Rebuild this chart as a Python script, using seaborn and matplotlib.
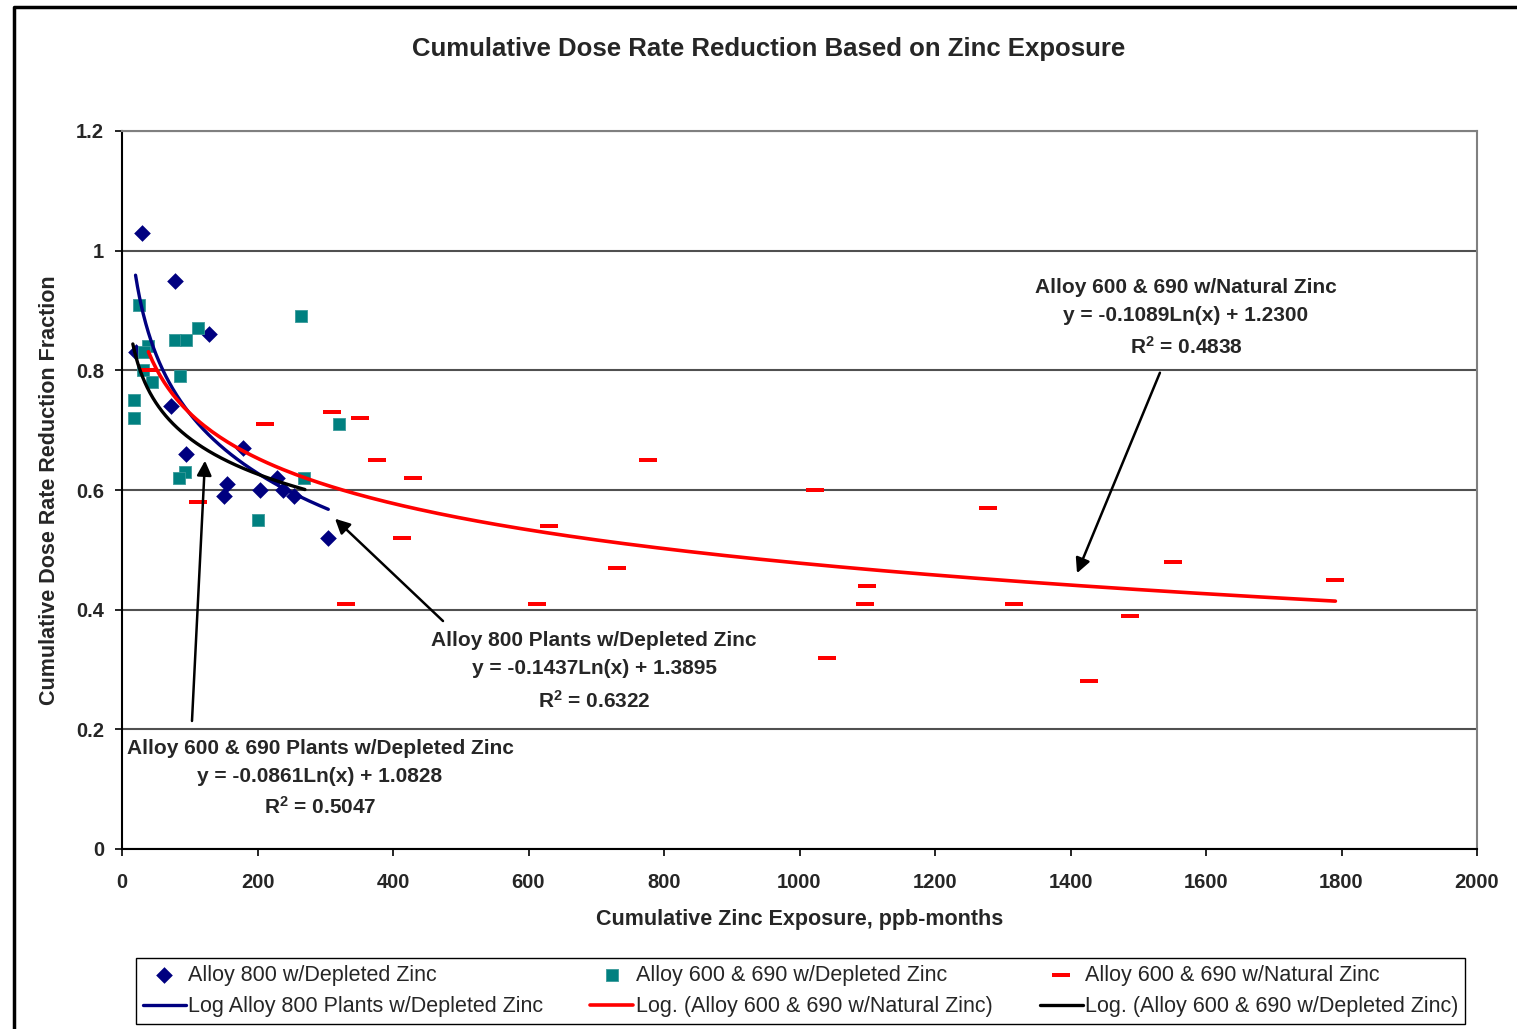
import numpy as np
import pandas as pd
import matplotlib
matplotlib.use("Agg")
import matplotlib.pyplot as plt
from matplotlib.lines import Line2D
import seaborn as sns

# ---- data -------------------------------------------------------------
alloy800_x = [20, 78, 129, 29, 73, 94.5, 179, 154.5, 150.5, 204, 229, 238, 254, 304.5]
alloy800_y = [0.83, 0.95, 0.86, 1.03, 0.74, 0.66, 0.67, 0.61, 0.59, 0.60, 0.62, 0.60, 0.59, 0.52]

depleted_x = [25, 264, 112.6, 78, 94, 39, 33, 31, 44, 85.6, 17, 17, 320, 93, 84, 269, 201]
depleted_y = [0.91, 0.89, 0.87, 0.85, 0.85, 0.84, 0.83, 0.80, 0.78, 0.79, 0.75, 0.72, 0.71, 0.63, 0.62, 0.62, 0.55]

natural_x = [39, 112.6, 211, 310, 351, 376, 430, 414, 330, 630, 613, 730, 776, 1023, 1040,
             1100, 1097, 1278, 1316, 1427, 1488, 1552, 1791]
natural_y = [0.80, 0.58, 0.71, 0.73, 0.72, 0.65, 0.62, 0.52, 0.41, 0.54, 0.41, 0.47, 0.65, 0.60, 0.32,
             0.44, 0.41, 0.57, 0.41, 0.28, 0.39, 0.48, 0.45]

# logarithmic trendlines: y = a*ln(x) + b, R², and the x span each one covers
fit800 = (-0.1437, 1.3895, 0.6322)
fit_natural = (-0.1089, 1.2300, 0.4838)
fit_depleted = (-0.0861, 1.0828, 0.5047)
span800 = (20, 304.5)
span_natural = (39, 1791)
span_depleted = (16, 270)

x_ticks = [0, 200, 400, 600, 800, 1000, 1200, 1400, 1600, 1800, 2000]
y_ticks = [0, 0.2, 0.4, 0.6, 0.8, 1.0, 1.2]
y_tick_labels = ["0", "0.2", "0.4", "0.6", "0.8", "1", "1.2"]

label800 = "Alloy 800 w/Depleted Zinc"
label_dep = "Alloy 600 & 690 w/Depleted Zinc"
label_nat = "Alloy 600 & 690 w/Natural Zinc"
label_log800 = "Log Alloy 800 Plants w/Depleted Zinc"
label_lognat = "Log. (Alloy 600 & 690 w/Natural Zinc)"
label_logdep = "Log. (Alloy 600 & 690 w/Depleted Zinc)"

NAVY = "#000080"
TEAL = "#008080"
RED = "#FF0000"

# ---- figure -------------------------------------------------------------
sns.set_theme(style="white")
plt.rcParams["font.family"] = ["Liberation Sans", "DejaVu Sans"]
plt.rcParams["mathtext.fontset"] = "custom"
plt.rcParams["mathtext.rm"] = "Liberation Sans"
plt.rcParams["mathtext.bf"] = "Liberation Sans:bold"

W, H = 1517, 1029
fig = plt.figure(figsize=(W / 100, H / 100), dpi=100)
ax = fig.add_axes([122 / W, 1 - 849 / H, 1355 / W, 718 / H])

df800 = pd.DataFrame({"x": alloy800_x, "y": alloy800_y})
dfdep = pd.DataFrame({"x": depleted_x, "y": depleted_y})
dfnat = pd.DataFrame({"x": natural_x, "y": natural_y})

dash = [(-1, -0.24), (1, -0.24), (1, 0.24), (-1, 0.24), (-1, -0.24)]

sns.scatterplot(data=df800, x="x", y="y", ax=ax, marker="D", s=72, color=NAVY,
                linewidth=0, label=label800, zorder=3)
sns.scatterplot(data=dfdep, x="x", y="y", ax=ax, marker="s", s=85, color=TEAL,
                edgecolor="#3a9a9a", linewidth=0.6, label=label_dep, zorder=3)
sns.scatterplot(data=dfnat, x="x", y="y", ax=ax, marker=dash, s=150, color=RED,
                linewidth=0, label=label_nat, zorder=3)


def trend(span, fit):
    xx = np.linspace(span[0], span[1], 300)
    return pd.DataFrame({"x": xx, "y": fit[0] * np.log(xx) + fit[1]})


sns.lineplot(data=trend(span800, fit800), x="x", y="y", ax=ax, color=NAVY, lw=2.4,
             label=label_log800, zorder=4)
sns.lineplot(data=trend(span_natural, fit_natural), x="x", y="y", ax=ax, color=RED, lw=2.6,
             label=label_lognat, zorder=4)
sns.lineplot(data=trend(span_depleted, fit_depleted), x="x", y="y", ax=ax, color="black", lw=2.4,
             label=label_logdep, zorder=4)

# ---- axes styling -----------------------------------------------------
ax.set_xlim(0, 2000)
ax.set_ylim(0, 1.2)
ax.set_xticks(x_ticks)
ax.set_xticklabels([str(t) for t in x_ticks])
ax.set_yticks(y_ticks)
ax.set_yticklabels(y_tick_labels)
ax.tick_params(axis="both", which="major", direction="out", length=5, width=1.2,
               color="black", labelsize=14.5, bottom=True, left=True)
ax.tick_params(axis="x", pad=12)
ax.tick_params(axis="y", pad=8)
for lab in ax.get_xticklabels() + ax.get_yticklabels():
    lab.set_fontweight("bold")

ax.yaxis.grid(True, color="#505050", lw=1.5)
ax.xaxis.grid(False)
ax.set_axisbelow(True)
for side in ("top", "right"):
    ax.spines[side].set_color("#808080")
    ax.spines[side].set_linewidth(1.5)
for side in ("left", "bottom"):
    ax.spines[side].set_color("black")
    ax.spines[side].set_linewidth(1.5)

ax.set_xlabel("Cumulative Zinc Exposure, ppb-months", fontsize=15.5, fontweight="bold")
ax.set_ylabel("Cumulative Dose Rate Reduction Fraction", fontsize=15.5, fontweight="bold")
ax.xaxis.set_label_coords(0.5, -60 / 718)
ax.yaxis.set_label_coords(-62 / 1355, 0.5)

fig.text(768.5 / W, 1 - 49 / H, "Cumulative Dose Rate Reduction Based on Zinc Exposure",
         ha="center", va="center", fontsize=18.5, fontweight="bold")

# ---- trendline annotations --------------------------------------------
def note(cx, ys, title, fit):
    lines = [title,
             f"y = {fit[0]:.4f}Ln(x) + {fit[1]:.4f}",
             r"$\mathbf{R^2}$" + f" = {fit[2]:.4f}"]
    for yy, txt in zip(ys, lines):
        ax.text(cx, yy, txt, ha="center", va="center", fontsize=15, fontweight="bold",
                zorder=6)


def arrow(tail, tip):
    ax.annotate("", xy=tip, xytext=tail,
                arrowprops=dict(arrowstyle="-|>", color="black", lw=1.8, mutation_scale=22,
                                shrinkA=0, shrinkB=0), zorder=6)


note(1570.5, [0.938, 0.891, 0.839], "Alloy 600 & 690 w/Natural Zinc", fit_natural)
arrow((1532, 0.796), (1409.6, 0.461))

note(696.7, [0.3477, 0.3009, 0.2474], "Alloy 800 Plants w/Depleted Zinc", fit800)
arrow((473.8, 0.381), (314.4, 0.552))

note(292.3, [0.1688, 0.122, 0.0702], "Alloy 600 & 690 Plants w/Depleted Zinc", fit_depleted)
arrow((103.3, 0.214), (122.5, 0.649))

# ---- legend -------------------------------------------------------------
handles, labels = ax.get_legend_handles_labels()
ax.get_legend().remove()
hmap = dict(zip(labels, handles))
order = [label800, label_log800, label_dep, label_lognat, label_nat, label_logdep]
leg = fig.legend([hmap[k] for k in order], order, ncol=3, loc="center",
                 bbox_to_anchor=(800.5 / W, 1 - 991 / H), fontsize=15.5,
                 frameon=True, fancybox=False, edgecolor="black", framealpha=1,
                 handlelength=2.0, handletextpad=0.1, columnspacing=2.2,
                 borderpad=0.3, labelspacing=0.5, borderaxespad=0)
leg.get_frame().set_linewidth(1.0)

# ---- outer frame --------------------------------------------------------
fig.add_artist(Line2D([13.5 / W, 13.5 / W, 1.01], [-0.01, 1 - 6.5 / H, 1 - 6.5 / H],
                      transform=fig.transFigure, color="black", lw=2.5))

fig.savefig("out.png", dpi=100)
